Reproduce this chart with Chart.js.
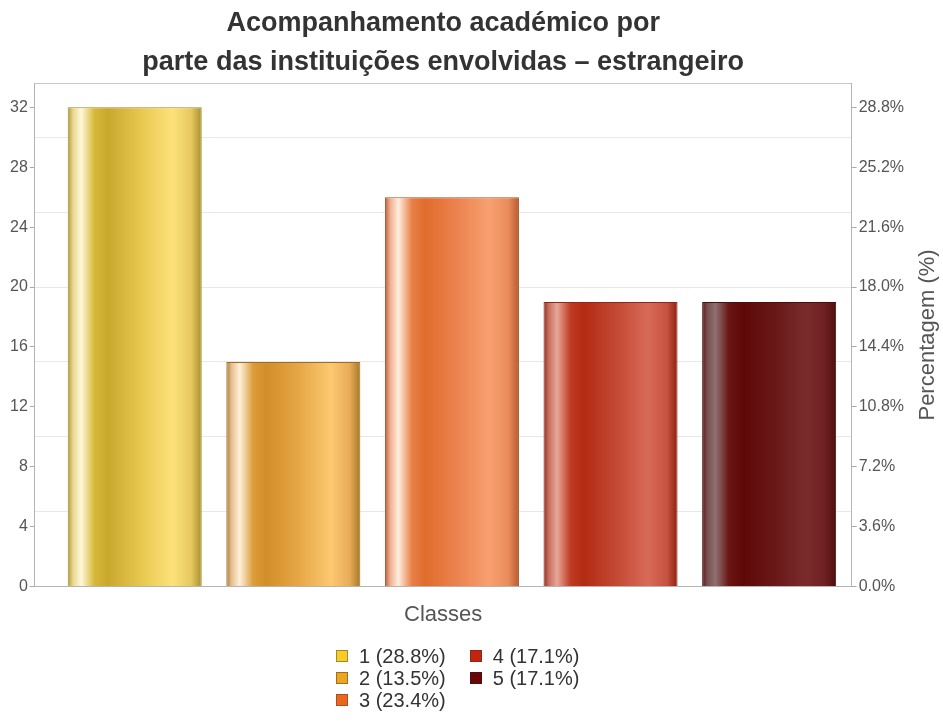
<!DOCTYPE html>
<html>
<head>
<meta charset="utf-8">
<script src="https://cdn.jsdelivr.net/npm/chart.js@4.4.0/dist/chart.umd.min.js"></script>
<style>
html,body{margin:0;padding:0;background:#fff;}
#wrap{position:relative;width:943px;height:725px;overflow:hidden;}
#legend{position:absolute;left:336px;top:645px;font-family:"Liberation Sans",Arial,sans-serif;font-size:20px;color:#333;display:grid;grid-auto-flow:column;grid-template-rows:repeat(3,22px);grid-template-columns:auto auto;column-gap:24px;}
.item{display:flex;align-items:center;white-space:nowrap;}
.box{width:12px;height:12px;margin-right:11px;box-sizing:border-box;}
</style>
</head>
<body>
<div id="wrap">
<canvas id="c" width="943" height="725"></canvas>
<div id="legend"></div>
</div>
<script>
// ---- data ----
const categories = ['1', '2', '3', '4', '5'];
const counts = [32, 15, 26, 19, 19];
const titleLines = ['Acompanhamento académico por', 'parte das instituições envolvidas – estrangeiro'];
const xTitle = 'Classes';
const yRightTitle = 'Percentagem (%)';

// ---- styles ----
const baseColors = ['#f8cc26', '#f0a51e', '#ec671c', '#c6230f', '#6c0505'];
const edgeColors = ['#a08a2a', '#9c6e26', '#a8502a', '#8a2a1a', '#4a1010'];
const gradStops = [
  [[0,'#b09a38'],[0.04,'#e8d890'],[0.1,'#fff8dc'],[0.2,'#d8b838'],[0.3,'#c9a82c'],[0.55,'#e8c850'],[0.78,'#fde27a'],[0.92,'#e8c860'],[1,'#a89030']],
  [[0,'#a87a3a'],[0.04,'#e8c090'],[0.1,'#fff0dc'],[0.2,'#dc9c3a'],[0.3,'#d28e28'],[0.55,'#e8a848'],[0.78,'#fcc870'],[0.92,'#e8ac58'],[1,'#a87828']],
  [[0,'#b86040'],[0.04,'#f0b090'],[0.1,'#ffeee0'],[0.2,'#e88048'],[0.3,'#e06c2c'],[0.55,'#ec8450'],[0.78,'#f8a070'],[0.92,'#ea8c5c'],[1,'#b85a2c']],
  [[0,'#903020'],[0.04,'#c87060'],[0.1,'#e8a898'],[0.2,'#c03c24'],[0.3,'#b42a12'],[0.55,'#c44a34'],[0.78,'#d86a58'],[0.92,'#c65240'],[1,'#902012']],
  [[0,'#5a1a1a'],[0.04,'#7a5050'],[0.1,'#8e7070'],[0.2,'#6a1414'],[0.3,'#5e0808'],[0.55,'#6a1818'],[0.78,'#7a2c2c'],[0.92,'#6e2020'],[1,'#4e0c0c']]
];
const FONT = '"Liberation Sans", Arial, sans-serif';
const barFrac = 0.845;

const total = counts.reduce((a, b) => a + b, 0);
const pct = v => (v / total * 100).toFixed(1);
const legendLabels = categories.map((c, i) => c + ' (' + pct(counts[i]) + '%)');

function gradientFor(i) {
  return (ctx) => {
    const ch = ctx.chart;
    const xs = ch.scales && ch.scales.x;
    if (!ch.chartArea || !xs || ctx.type !== 'data' || !ctx.raw) return baseColors[i];
    const unit = Math.abs(xs.getPixelForValue(2) - xs.getPixelForValue(1));
    const w = unit * barFrac;
    const c = xs.getPixelForValue(ctx.raw.x);
    const g = ch.ctx.createLinearGradient(c - w / 2, 0, c + w / 2, 0);
    gradStops[i].forEach(([o, col]) => g.addColorStop(o, col));
    return g;
  };
}

const datasets = categories.map((c, i) => ({
  label: legendLabels[i],
  data: [{ x: i + 1, y: counts[i] }],
  backgroundColor: gradientFor(i),
  borderColor: edgeColors[i],
  borderWidth: 1,
  grouped: false,
  barPercentage: 1,
  categoryPercentage: barFrac,
  xAxisID: 'x',
  yAxisID: 'y'
}));

const xMin = 0.37, xMax = 5.52;
const yMax = 33.6;

// right axis title, drawn rotated bottom-to-top
const rightTitlePlugin = {
  id: 'rightTitle',
  afterDraw(chart) {
    const { ctx, chartArea } = chart;
    ctx.save();
    ctx.font = '22px ' + FONT;
    ctx.fillStyle = '#555';
    ctx.textAlign = 'center';
    ctx.textBaseline = 'middle';
    ctx.translate(928, (chartArea.top + chartArea.bottom) / 2);
    ctx.rotate(-Math.PI / 2);
    ctx.fillText(yRightTitle, 0, 0);
    ctx.restore();
  }
};

new Chart(document.getElementById('c'), {
  type: 'bar',
  data: { datasets },
  plugins: [rightTitlePlugin],
  options: {
    responsive: false,
    animation: false,
    events: [],
    layout: { padding: { left: 8, right: 37, top: 0, bottom: 97 } },
    plugins: {
      legend: { display: false },
      tooltip: { enabled: false },
      title: {
        display: true,
        fullSize: false,
        text: titleLines,
        color: '#333',
        font: { family: FONT, size: 27, weight: 'bold', lineHeight: 1.45 },
        padding: { top: 4, bottom: 1 }
      }
    },
    scales: {
      x: {
        type: 'linear', position: 'bottom', min: xMin, max: xMax, offset: false,
        ticks: { display: false, stepSize: 1, includeBounds: false },
        grid: { display: false, offset: false },
        border: { display: true, color: '#b4b4b4' },
        title: { display: true, text: xTitle, color: '#555', font: { family: FONT, size: 22 }, padding: { top: 7, bottom: 0 } }
      },
      xTop: {
        type: 'linear', position: 'top', min: xMin, max: xMax, offset: false,
        ticks: { display: false },
        grid: { display: false, drawTicks: false },
        border: { display: true, color: '#c8c8c8' }
      },
      yg: {
        type: 'linear', position: 'left', min: 0, max: yMax,
        ticks: { display: false, stepSize: 5, includeBounds: false },
        grid: { display: true, color: '#e8e8e8', drawTicks: false },
        border: { display: false }
      },
      y: {
        type: 'linear', position: 'left', min: 0, max: yMax,
        ticks: { stepSize: 4, includeBounds: false, color: '#555', font: { family: FONT, size: 16 }, padding: 2 },
        grid: { display: true, drawOnChartArea: false, drawTicks: true, tickLength: 5, color: '#aaa' },
        border: { display: true, color: '#b4b4b4' }
      },
      y2: {
        type: 'linear', position: 'right', min: 0, max: yMax,
        ticks: { stepSize: 4, includeBounds: false, color: '#555', font: { family: FONT, size: 16 }, padding: 2,
                 callback: v => pct(v) + '%' },
        grid: { display: true, drawOnChartArea: false, drawTicks: true, tickLength: 5, color: '#aaa' },
        border: { display: true, color: '#b4b4b4' }
      }
    }
  }
});

// legend (column-major, 2 columns)
const lg = document.getElementById('legend');
categories.forEach((c, i) => {
  const it = document.createElement('div');
  it.className = 'item';
  const b = document.createElement('span');
  b.className = 'box';
  b.style.background = baseColors[i];
  b.style.border = '1px solid ' + edgeColors[i];
  const t = document.createElement('span');
  t.textContent = legendLabels[i];
  it.appendChild(b); it.appendChild(t);
  lg.appendChild(it);
});
</script>
</body>
</html>
